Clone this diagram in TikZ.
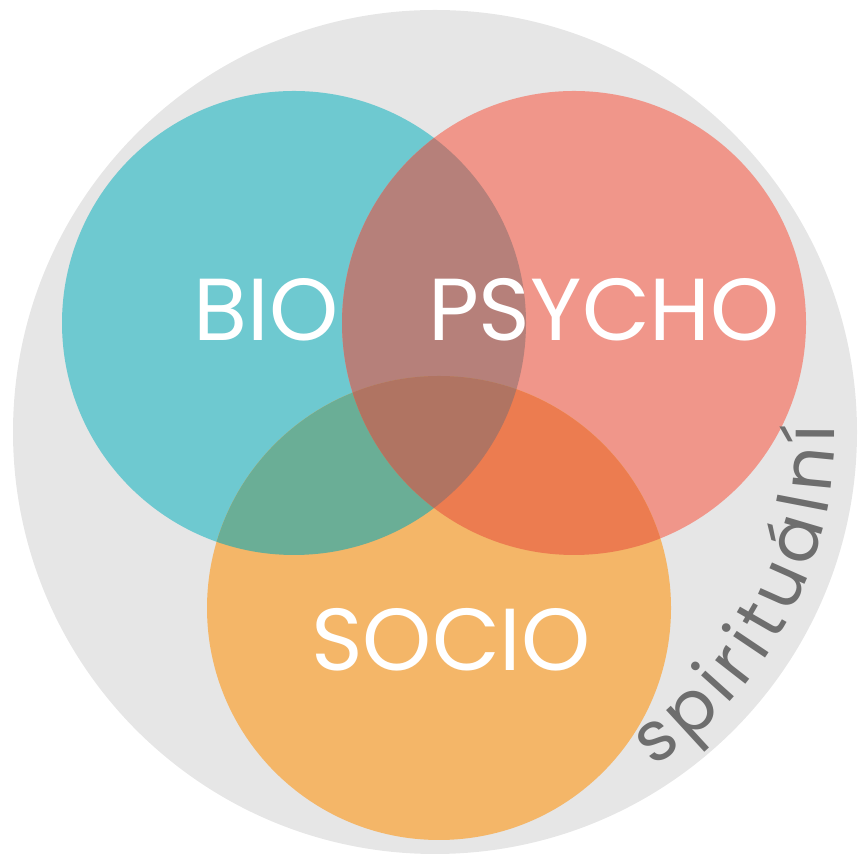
\documentclass[tikz,border=0pt]{standalone}
\usepackage{fontspec}
\setmainfont{Poppins}
\usepackage{xcolor}
\definecolor{RingGrey}{HTML}{E6E6E6}
\definecolor{BioBlue}{HTML}{6EC9D0}
\definecolor{PsychoRed}{HTML}{F0968A}
\definecolor{SocioOrange}{HTML}{F4B668}
\definecolor{BioPsycho}{HTML}{B6807A}
\definecolor{BioSocio}{HTML}{6AAE96}
\definecolor{PsychoSocio}{HTML}{EC7C50}
\definecolor{AllThree}{HTML}{B07462}
\definecolor{SpiritGrey}{HTML}{6E6E6E}
\usepackage{tikz}
\usetikzlibrary{decorations.text}
\newcommand\Rad{232pt}
\newcommand\RingRad{422pt}
\newcommand\TextRad{400}
\tikzstyle{venn}=[circle,inner sep=0pt,minimum size=2*\Rad]
\tikzstyle{vennlabel}=[text=white,inner sep=0pt,font=\fontsize{88}{88}\selectfont]

\begin{document}
\begin{tikzpicture}[x=1pt,y=1pt]
      \useasboundingbox (0,0) rectangle (858,858);
      \node[circle,inner sep=0pt,minimum size=2*\RingRad] (ring) at (435,426) [fill=RingGrey] {};
      \node[venn] (bio) at (294,535) [fill=BioBlue] {};
      \node[venn] (psycho) at (574,535) [fill=PsychoRed] {};
      \node[venn] (socio) at (439,250) [fill=SocioOrange] {};
      \begin{scope}
        \clip (bio.center) circle (\Rad);
        \fill[BioPsycho] (psycho.center) circle (\Rad);
        \fill[BioSocio] (socio.center) circle (\Rad);
      \end{scope}
      \begin{scope}
        \clip (psycho.center) circle (\Rad);
        \fill[PsychoSocio] (socio.center) circle (\Rad);
        \clip (bio.center) circle (\Rad);
        \fill[AllThree] (socio.center) circle (\Rad);
      \end{scope}
      \node[vennlabel] (biotext) at (266,548) {BIO};
      \node[vennlabel] (psychotext) at (604,548) {PSYCHO};
      \node[vennlabel] (sociotext) at (451,218) {SOCIO};
      \path[decorate,decoration={text along path,text align=fit to path,text color=SpiritGrey,
            text={|\fontsize{70}{70}\selectfont|spirituální}}]
            (ring.center) ++(-57:\TextRad) arc[start angle=-57,end angle=1,radius=\TextRad];
   \end{tikzpicture}
\end{document}
